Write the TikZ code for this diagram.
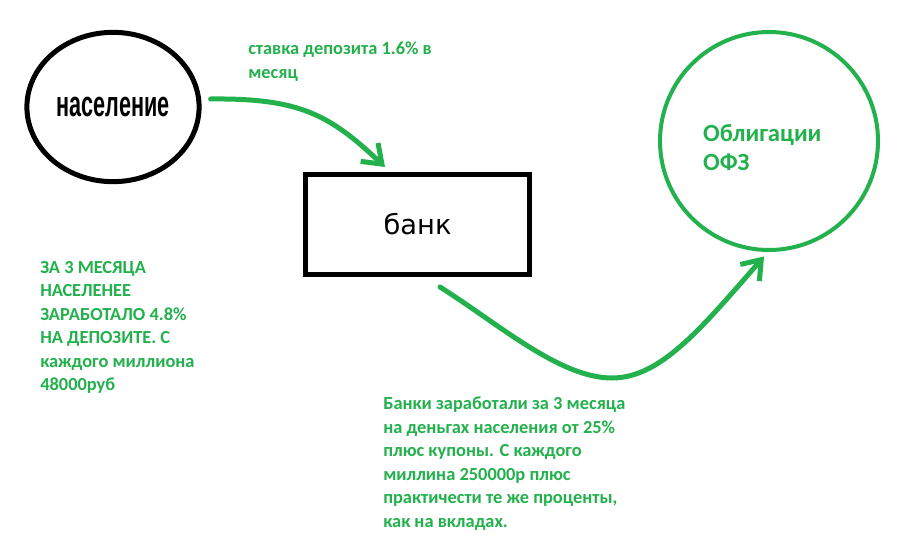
\documentclass[tikz,border=0pt]{standalone}
\usepackage{fontspec}
\setmainfont{Carlito}
\newfontfamily\bankfont{DejaVu Sans}
\newfontfamily\popfont{Liberation Sans}
\usetikzlibrary{arrows.meta,calc,shapes.geometric}
\definecolor{paintgreen}{HTML}{22B14C}

\begin{document}
\begin{tikzpicture}[x=0.75pt,y=-0.75pt,
  flow/.style={paintgreen,line width=3.75pt,line cap=round,-{Straight Barb[length=13pt,width=19pt]}},
  note/.style={paintgreen,font=\bfseries\fontsize{13.8}{17.6}\selectfont,align=left,anchor=north west,inner sep=0pt}]
  \useasboundingbox[fill=white] (0,0) rectangle (898,542);
  \node[draw,ellipse,line width=3.75pt,minimum width=127.5pt,minimum height=112pt] (pop) at (113,107) {\popfont\bfseries\fontsize{27}{30}\selectfont\scalebox{0.6}[1]{население}};
  \node[draw,line width=3.75pt,minimum width=168pt,minimum height=75pt] (bank) at (417.5,224.5) {\bankfont\fontsize{20.5}{24}\selectfont банк};
  \node[draw=paintgreen,circle,line width=3pt,minimum size=163.5pt,
    label={[text=paintgreen,align=left,xshift=-5pt,yshift=-5pt,font=\bfseries\fontsize{18.5}{21.75}\selectfont]center:Облигации\\ОФЗ}] (bonds) at (769,141) {};
  \draw[flow] ($(pop.east)+(9,-8)$) .. controls (300,98) and (330,115) .. ($(bank.north)+(-32.5,-5)$);
  \draw[flow] ($(bank.south)+(22.5,10)$) .. controls (500,325) and (560,378) .. (612,378) .. controls (660,378) and (700,330) .. ($(bonds.south)+(-5,4.5)$);
  \node[note] (rate) at (248,42) {ставка депозита 1.6\% в\\месяц};
  \node[note] (people) at (40,261) {ЗА 3 МЕСЯЦА\\НАСЕЛЕНЕЕ\\ЗАРАБОТАЛО 4.8\%\\НА ДЕПОЗИТЕ. С\\каждого миллиона\\48000руб};
  \node[note] (profit) at (383,397) {Банки заработали за 3 месяца\\на деньгах населения от 25\%\\плюс купоны. С каждого\\миллина 250000р плюс\\практичести те же проценты,\\как на вкладах.};
\end{tikzpicture}
\end{document}
